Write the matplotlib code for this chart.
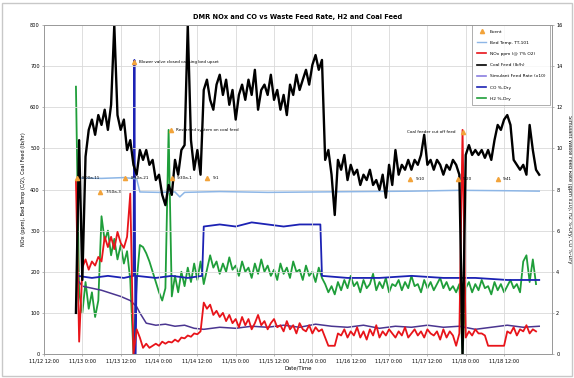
import numpy as np
import matplotlib
matplotlib.use("Agg")
import matplotlib.pyplot as plt
from matplotlib.lines import Line2D
from matplotlib.patches import Rectangle

# ---- time axis (hours from start of run) ----
tick_hours = [0, 12, 24, 36, 48, 60, 72, 84, 96, 108, 120, 132, 144]
tick_labels = ["11/12 12:00", "11/13 0:00", "11/13 12:00", "11/14 0:00",
               "11/14 12:00", "11/15 0:00", "11/15 12:00", "11/16 0:00",
               "11/16 12:00", "11/17 0:00", "11/17 12:00", "11/18 0:00",
               "11/18 12:00"]

# ---- coal feed (left axis), hourly samples from hour 10 ----
coal_start = 10
coal_feed = [100, 520, 180, 480, 545,
             570, 533, 581, 557, 594, 545, 606, 800,
             581, 545, 570, 496, 520, 460, 436, 496, 472, 496, 460, 472, 423, 436,
             387, 362, 411, 387, 472, 436, 496, 508, 800, 520, 448, 496, 436, 642,
             667, 618, 594, 655, 679, 630, 667, 606, 642, 570, 630, 655, 618, 667,
             630, 691, 594, 642, 655, 630, 679, 618, 642, 594, 630, 581, 655, 630,
             679, 642, 667, 691, 655, 703, 727, 691, 715, 472, 496, 436, 338, 472,
             448, 484, 423, 460, 436, 448, 411, 436, 423, 448, 411, 423, 399, 436,
             380, 460, 411, 496, 436, 460, 448, 472, 448, 472, 460, 484, 533, 460,
             472, 448, 472, 460, 436, 460, 448, 472, 460, 436, 0, 484, 508, 484,
             496, 484, 496, 477, 496, 472, 520, 557, 545, 570, 581, 557, 472, 460,
             448, 460, 436, 557, 496, 448, 436]

# ---- NOx ppm (left axis), hourly samples from hour 10 ----
nox_start = 10
nox_ppm = [420, 30, 210, 230, 205, 225, 215, 236, 225, 285,
           260, 285, 255, 297, 270, 258, 285, 390, 0, 60,
           40, 15, 25, 15, 20, 25, 20, 30, 25, 30,
           28, 35, 30, 40, 38, 45, 42, 50, 48, 55,
           125, 110, 120, 95, 105, 90, 100, 80, 95, 75,
           85, 65, 90, 70, 85, 60, 75, 95, 70, 80,
           60, 75, 85, 65, 70, 55, 80, 60, 70, 50,
           75, 60, 55, 70, 50, 65, 55, 60, 40, 20,
           20, 20, 50, 45, 60, 40, 55, 45, 65, 40,
           55, 35, 60, 45, 70, 40, 55, 45, 60, 50,
           40, 55, 45, 65, 40, 50, 60, 45, 55, 40,
           60, 50, 45, 55, 35, 60, 40, 55, 45, 20,
           50, 545, 40, 55, 45, 60, 50, 50, 45, 20,
           20, 20, 20, 20, 20, 55, 50, 65, 45, 60,
           55, 70, 50, 60, 55]

# ---- bed temperature (left axis) ----
bed_hours = [10.5, 18, 25, 29, 30, 36, 41, 42.5, 44, 55, 70, 85, 100, 115, 130, 145, 155]
bed_temp = [428, 427, 429, 426, 394, 393, 394, 382, 393, 395, 393, 394, 395, 396, 398, 397, 396]

# ---- H2 %-dry (right axis), hourly samples from hour 10 ----
h2_start = 10
h2_pct = [13.0, 3.0, 2.0, 3.5, 2.2, 3.0, 1.8, 2.6, 6.7, 5.5,
          6.0, 4.8, 5.6, 4.6, 5.3, 4.4, 5.0, 3.6, 0.0, 3.5,
          5.3, 5.2, 4.9, 4.5, 4.0, 3.5, 3.0, 2.6, 3.2, 10.9,
          2.8, 3.8, 3.0, 4.0, 3.3, 4.2, 3.5, 4.4, 3.6, 4.5,
          3.4, 4.1, 4.8, 4.2, 4.5, 3.9, 4.4, 4.0, 4.7, 4.1,
          4.3, 3.8, 4.5, 4.0, 4.2, 3.7, 4.4, 3.9, 4.6, 4.0,
          4.3, 3.8, 4.1, 3.6, 4.4, 3.9, 4.2, 3.7, 4.5, 4.0,
          4.1, 3.6, 4.3, 3.8, 4.0, 3.5, 4.2, 3.7, 3.4, 3.0,
          3.3, 2.9, 3.5, 3.1, 3.6, 3.2, 3.8, 3.3, 3.5, 3.0,
          3.6, 3.2, 3.4, 3.9, 3.1, 3.5, 3.2, 3.7, 3.0, 3.4,
          3.3, 3.6, 3.1, 3.5, 3.2, 3.8, 3.3, 3.4, 3.0, 3.6,
          3.2, 3.5, 3.1, 3.4, 3.7, 3.2, 3.5, 3.1, 3.3, 3.0,
          3.4, 0.0, 3.2, 3.5, 3.0, 3.4, 3.1, 3.6, 3.2, 3.3,
          2.9, 3.5, 3.1, 3.4, 3.0, 3.3, 3.6, 3.2, 3.4, 3.0,
          4.5, 4.8, 3.5, 4.6, 3.4]

# ---- CO %-dry (right axis) ----
co_hours = [10.5, 15, 20, 25, 28.0, 28.3, 28.6, 29.0, 35, 40, 45, 49.5, 50, 55, 60, 65,
            70, 75, 80, 86.5, 87, 95, 105, 115, 125, 135, 145, 155]
co_pct = [3.8, 3.7, 3.8, 3.7, 3.8, 14.3, 0.0, 3.8, 3.7, 3.8, 3.7, 3.8, 6.2,
          6.3, 6.2, 6.4, 6.3, 6.2, 6.3, 6.3, 3.8, 3.7, 3.7, 3.8, 3.7, 3.7, 3.6, 3.6]

# ---- simulant feed rate x10 (right axis) ----
sim_hours = [10.5, 12, 15, 18, 21, 24, 27, 29, 30, 32, 35, 38, 41, 44, 47, 50, 55,
             60, 65, 70, 75, 80, 85, 90, 95, 100, 105, 110, 115, 120, 125, 130,
             135, 140, 145, 150, 155]
sim_feed = [3.6, 3.3, 3.2, 3.1, 2.95, 2.8, 2.6, 2.3, 2.0, 1.5, 1.4, 1.45, 1.35, 1.4,
            1.25, 1.2, 1.3, 1.25, 1.35, 1.3, 1.4, 1.3, 1.45, 1.35, 1.3, 1.4, 1.25,
            1.35, 1.3, 1.4, 1.3, 1.35, 1.2, 1.3, 1.4, 1.3, 1.35]

# ---- events ----
event_hours = [10.3, 17.6, 25.4, 28.2, 40.1, 39.8, 51.1, 114.7, 129.5, 131.0, 142.0]
event_vals = [428, 394, 428, 710, 428, 545, 428, 426, 426, 540, 426]
event_text = ["8:00a-11", "7:50a-3", "8:30a-21", "Blower valve closed causing bed upset",
              "9:30a-1", "Restarted system on coal feed", "9:1", "9:10", "9:20",
              "Coal feeder cut off feed", "9:41"]

# ---- colours ----
c_nox = "#e8141a"
c_coal = "#000000"
c_bed = "#8db6e6"
c_sim = "#4a3590"
c_co = "#1c22b4"
c_h2 = "#1f9e3a"
c_event = "#f2a33a"


def hourly(start, values):
    return np.arange(start, start + len(values))


fig = plt.figure(figsize=(5.74, 3.78), dpi=100)
fig.patches.append(Rectangle((0.004, 0.005), 0.992, 0.988, transform=fig.transFigure,
                             fill=False, edgecolor="#c8c8c8", linewidth=1.0))

ax = fig.add_axes([44 / 574, 1 - 354 / 378, (552 - 44) / 574, (354 - 25) / 378])
ax2 = ax.twinx()
ax.set_zorder(ax2.get_zorder() + 1)
ax.patch.set_visible(False)

ax.set_xlim(0, 159)
ax.set_ylim(0, 800)
ax2.set_ylim(0, 16)
ax.set_xticks(tick_hours)
ax.set_xticklabels(tick_labels)
ax.set_yticks(np.arange(0, 801, 100))
ax2.set_yticks(np.arange(0, 17, 2))

ax.grid(True, color="#d9d9d9", linewidth=0.6)
for a in (ax, ax2):
    for s in a.spines.values():
        s.set_color("#9a9a9a")
        s.set_linewidth(0.7)
    a.tick_params(labelsize=3.6, length=1.5, width=0.5, color="#9a9a9a", pad=1.5)

# right-axis series
ax2.plot(hourly(h2_start, h2_pct), h2_pct, color=c_h2, linewidth=1.3)
ax2.plot(sim_hours, sim_feed, color=c_sim, linewidth=1.1)
ax2.plot(co_hours, co_pct, color=c_co, linewidth=1.3)

# left-axis series
ax.plot(bed_hours, bed_temp, color=c_bed, linewidth=1.1)
ax.plot(hourly(nox_start, nox_ppm), nox_ppm, color=c_nox, linewidth=1.3)
ax.plot(hourly(coal_start, coal_feed), coal_feed, color=c_coal, linewidth=1.7)

# events with labels
for h, v, t in zip(event_hours, event_vals, event_text):
    ax.plot(h, v, marker="^", color=c_event, markersize=3, linestyle="none")
    if t.startswith("Coal"):
        ax.text(h - 2.2, v, t, fontsize=3.0, ha="right", va="center")
    else:
        ax.text(h + 1.6, v, t, fontsize=3.0, ha="left", va="center")

ax.set_title("DMR NOx and CO vs Waste Feed Rate, H2 and Coal Feed",
             fontsize=4.8, fontweight="bold", pad=4)
ax.set_xlabel("Date/Time", fontsize=3.8, labelpad=2)
ax.set_ylabel("NOx (ppm), Bed Temp (C/2), Coal Feed (lb/hr)", fontsize=3.6, labelpad=3)
ax2.set_ylabel("Simulant Waste Feed Rate (gpm x10), H2 %-Dry, CO %-Dry", fontsize=3.6,
               labelpad=3, rotation=270, va="bottom")

handles = [
    Line2D([], [], color=c_event, marker="^", linestyle="none", markersize=3),
    Line2D([], [], color=c_bed, linewidth=1.0),
    Line2D([], [], color=c_nox, linewidth=1.2),
    Line2D([], [], color=c_coal, linewidth=1.2),
    Line2D([], [], color="#8a7ee0", linewidth=1.2),
    Line2D([], [], color=c_co, linewidth=1.2),
    Line2D([], [], color=c_h2, linewidth=1.2),
]
labels = ["Event", "Bed Temp. TT-101", "NOx ppm (@ 7% O2)", "Coal Feed (lb/h)",
          "Simulant Feed Rate (x10)", "CO %-Dry", "H2 %-Dry"]
leg = ax.legend(handles, labels, loc="upper right", bbox_to_anchor=(0.996, 1.0),
                borderaxespad=0, fontsize=3.2, labelspacing=1.6, handlelength=2.2,
                frameon=True, fancybox=False, borderpad=1.0)
leg.get_frame().set_edgecolor("#8a8a8a")
leg.get_frame().set_linewidth(0.6)

fig.savefig("out.png", dpi=100)
